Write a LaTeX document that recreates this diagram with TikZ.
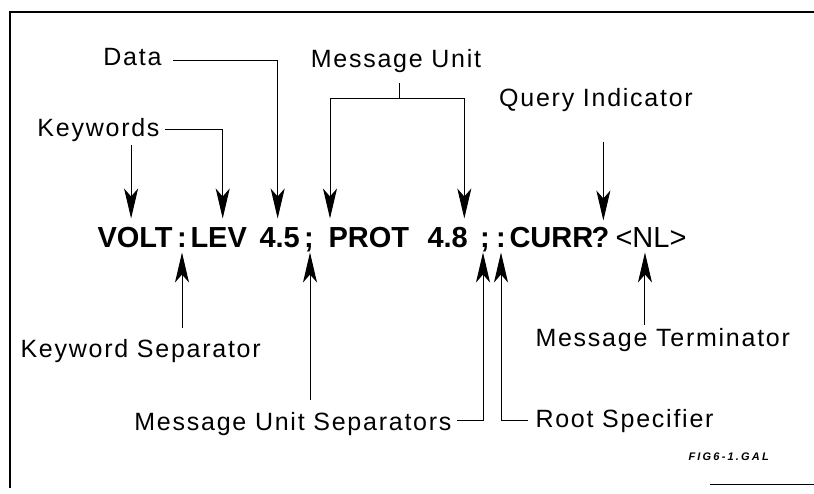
\documentclass[tikz,border=0pt]{standalone}
\usepackage{fontspec}
\newfontfamily\lblfont[LetterSpace=7]{Liberation Sans}
\newfontfamily\msgfont{Liberation Sans}
\newfontfamily\tagfont[LetterSpace=20]{Liberation Sans}
\usetikzlibrary{calc,arrows.meta}

\begin{document}
\begin{tikzpicture}[x=1pt, y=-1pt, line width=1pt,
  lbl/.style={inner sep=0pt, font=\lblfont\fontsize{25}{25}\selectfont},
  msg/.style={inner sep=0pt, anchor=base west, text height=21pt, text depth=0pt,
              font=\msgfont\bfseries\fontsize{29}{29}\selectfont},
  msgterm/.style={msg, font=\msgfont\fontsize{29}{29}\selectfont},
  arr/.style={-{Stealth[length=30pt, width=14pt, inset=8pt]}}]
  \useasboundingbox (0,0) rectangle (814,494);
  % frame
  \draw[line width=1.2pt] (10,488) -- (10,12) -- (814,12);
  \draw (710,484) -- (814,484);
  % command string
  \path node (volt)  at (97,248)  [msg] {VOLT}
        node (colA)  at (182,248) [msg, anchor=base] {:}
        node (lev)   at (190,248) [msg] {LEV}
        node (dataA) at (259,248) [msg] {4.5}
        node (semiA) at (309,248) [msg, anchor=base] {;}
        node (prot)  at (328,248) [msg] {PROT}
        node (dataB) at (427,248) [msg] {4.8}
        node (semiB) at (485,248) [msg, anchor=base] {;}
        node (colB)  at (501,248) [msg, anchor=base] {:}
        node (curr)  at (509,248) [msg] {CURR}
        node (qmark) at (591,248) [msg] {?}
        node (term)  at (615,248) [msgterm] {<NL>};
  % labels
  \path node (data) at (162,66)  [lbl, anchor=base east] {Data}
        node (kw)   at (160,137) [lbl, anchor=base east] {Keywords}
        node (mu)   at (396,68)  [lbl, anchor=base] {Message Unit}
        node (qi)   at (596,107) [lbl, anchor=base] {Query Indicator}
        node (ks)   at (20,357)  [lbl, anchor=base west] {Keyword Separator}
        node (mus)  at (452,430) [lbl, anchor=base east] {Message Unit Separators}
        node (rs)   at (535,427) [lbl, anchor=base west] {Root Specifier}
        node (mt)   at (535,347) [lbl, anchor=base west] {Message Terminator}
        node (fig)  at (688,460) [anchor=base west, inner sep=0pt,
                     font=\tagfont\bfseries\itshape\fontsize{11}{11}\selectfont] {FIG6-1.GAL};
  % pointers from above
  \draw[arr] ($(data.base east)+(11,-5)$) -| ($(dataA.north)+(-2,-8)$);
  \draw[arr] ($(kw.base east)+(5,-7)$) -| ($(lev.north)+(4,-8)$);
  \draw[arr] ($(volt.north |- kw.base)+(-4,8)$) -- ($(volt.north)+(-4,-8)$);
  \coordinate (muj) at ($(mu.base)+(3,31)$);
  \draw ($(mu.base)+(3,15)$) -- (muj);
  \draw[arr] (muj) -| ($(prot.north west)+(2,-8)$);
  \draw[arr] (muj) -| ($(dataB.north east)+(-4,-8)$);
  \draw[arr] ($(qmark.north |- qi.base)+(3,35)$) -- ($(qmark.north)+(3,-6)$);
  % pointers from below
  \draw[arr] ($(colA.south |- ks.base)+(0,-29)$) -- ($(colA.south)+(0,4)$);
  \draw[arr] ($(semiA.south |- mus.base)+(1,-30)$) -- ($(semiA.south)+(1,4)$);
  \draw[arr] ($(mus.base east)+(5,-10)$) -| ($(semiB.south)+(-2,4)$);
  \draw[arr] ($(rs.base west)+(-7,-7)$) -| ($(colB.south)+(0,4)$);
  \draw[arr] ($(term.south |- mt.base)+(-6,-22)$) -- ($(term.south)+(-6,4)$);
\end{tikzpicture}
\end{document}
